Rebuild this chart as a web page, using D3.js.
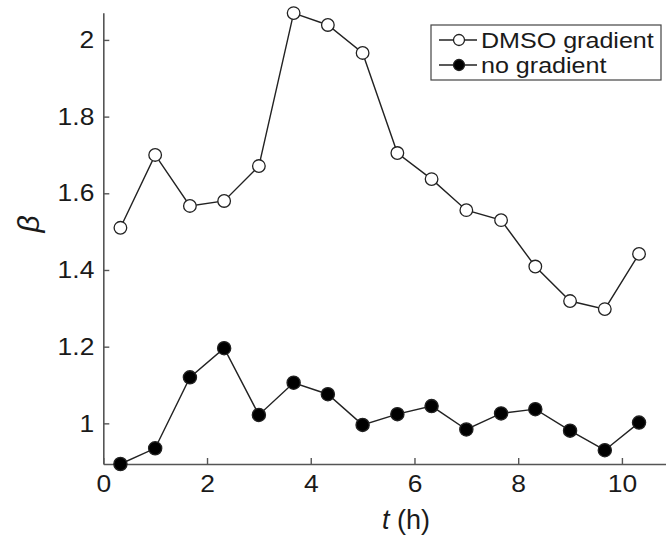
<!DOCTYPE html>
<html><head><meta charset="utf-8">
<script src="https://cdn.jsdelivr.net/npm/d3@7"></script>
<style>
html,body{margin:0;padding:0;background:#fff;}
svg{display:block;}
text{font-family:"Liberation Sans",Arial,Helvetica,sans-serif;fill:#1a1a1a;}
</style></head>
<body>
<svg id="chart" width="666" height="541"></svg>
<script>
const times = [0.33,1,1.67,2.33,3,3.67,4.33,5,5.67,6.33,7,7.67,8.33,9,9.67,10.33];
const dmso = [1.51,1.70,1.567,1.58,1.671,2.07,2.039,1.966,1.705,1.637,1.556,1.53,1.409,1.319,1.298,1.442];
const noGrad = [0.894,0.935,1.12,1.196,1.022,1.106,1.076,0.996,1.024,1.045,0.984,1.026,1.037,0.981,0.930,1.002];
const xTicks = [0,2,4,6,8,10];
const yTicks = [1,1.2,1.4,1.6,1.8,2];
const seriesNames = ["DMSO gradient","no gradient"];

const svg = d3.select("#chart");
const x = d3.scaleLinear().domain([0,10.85]).range([103.3,666]);
const y = d3.scaleLinear().domain([0.894,2.071]).range([464,12.7]);
const axisColor = "#555";
const sx = 1.1;

// axes
const xa = svg.append("g").attr("transform","translate(0,464)")
  .call(d3.axisBottom(x).tickValues(xTicks).tickFormat(d3.format("d")).tickSizeInner(-6).tickSizeOuter(0).tickPadding(10));
xa.select(".domain").attr("stroke",axisColor).attr("stroke-width",1.6);
xa.selectAll(".tick line").attr("stroke",axisColor).attr("stroke-width",1.4);
xa.selectAll(".tick text").attr("font-size",24).attr("fill","#1a1a1a").attr("dy","0.71em").attr("y",11)
  .attr("transform",`scale(${sx},1)`);

const ya = svg.append("g").attr("transform","translate(103.3,0)")
  .call(d3.axisLeft(y).tickValues(yTicks).tickFormat(d=>d3.format("")(d)).tickSizeInner(-6).tickSizeOuter(0).tickPadding(9));
ya.select(".domain").attr("stroke",axisColor).attr("stroke-width",1.6);
ya.selectAll(".tick line").attr("stroke",axisColor).attr("stroke-width",1.4);
ya.selectAll(".tick text").attr("font-size",24).attr("fill","#1a1a1a").attr("x",-9/sx)
  .attr("transform",`scale(${sx},1)`);

// axis labels
const xl = svg.append("text").attr("x",406).attr("y",529).attr("text-anchor","middle").attr("font-size",27);
xl.append("tspan").attr("font-style","italic").text("t");
xl.append("tspan").text(" (h)");
svg.append("text").attr("transform","translate(39,224) rotate(-90)").attr("text-anchor","middle")
  .attr("font-size",30).attr("font-style","italic").text("β");

const line = d3.line().x((d,i)=>x(times[i])).y(d=>y(d));
function drawSeries(vals, fill){
  svg.append("path").datum(vals).attr("d",line).attr("fill","none").attr("stroke","#222").attr("stroke-width",1.4);
  svg.append("g").selectAll("circle").data(vals).join("circle")
    .attr("cx",(d,i)=>x(times[i])).attr("cy",d=>y(d)).attr("r",fill==="#000"?6.6:6.3)
    .attr("fill",fill).attr("stroke","#222").attr("stroke-width",1.3);
}
drawSeries(dmso,"#fff");
drawSeries(noGrad,"#000");

// legend
const lg = svg.append("g");
lg.append("rect").attr("x",431).attr("y",25).attr("width",230).attr("height",55)
  .attr("fill","#fff").attr("stroke","#444").attr("stroke-width",1.2);
seriesNames.forEach((name,i)=>{
  const cy = 40 + i*25;
  lg.append("line").attr("x1",439).attr("x2",477).attr("y1",cy).attr("y2",cy).attr("stroke","#222").attr("stroke-width",1.4);
  lg.append("circle").attr("cx",459).attr("cy",cy).attr("r",5.5)
    .attr("fill",i===0?"#fff":"#000").attr("stroke","#222").attr("stroke-width",1.3);
  lg.append("text").attr("transform",`translate(481,${cy+7.5}) scale(1.14,1)`).attr("font-size",22).text(name);
});
</script>
</body></html>
